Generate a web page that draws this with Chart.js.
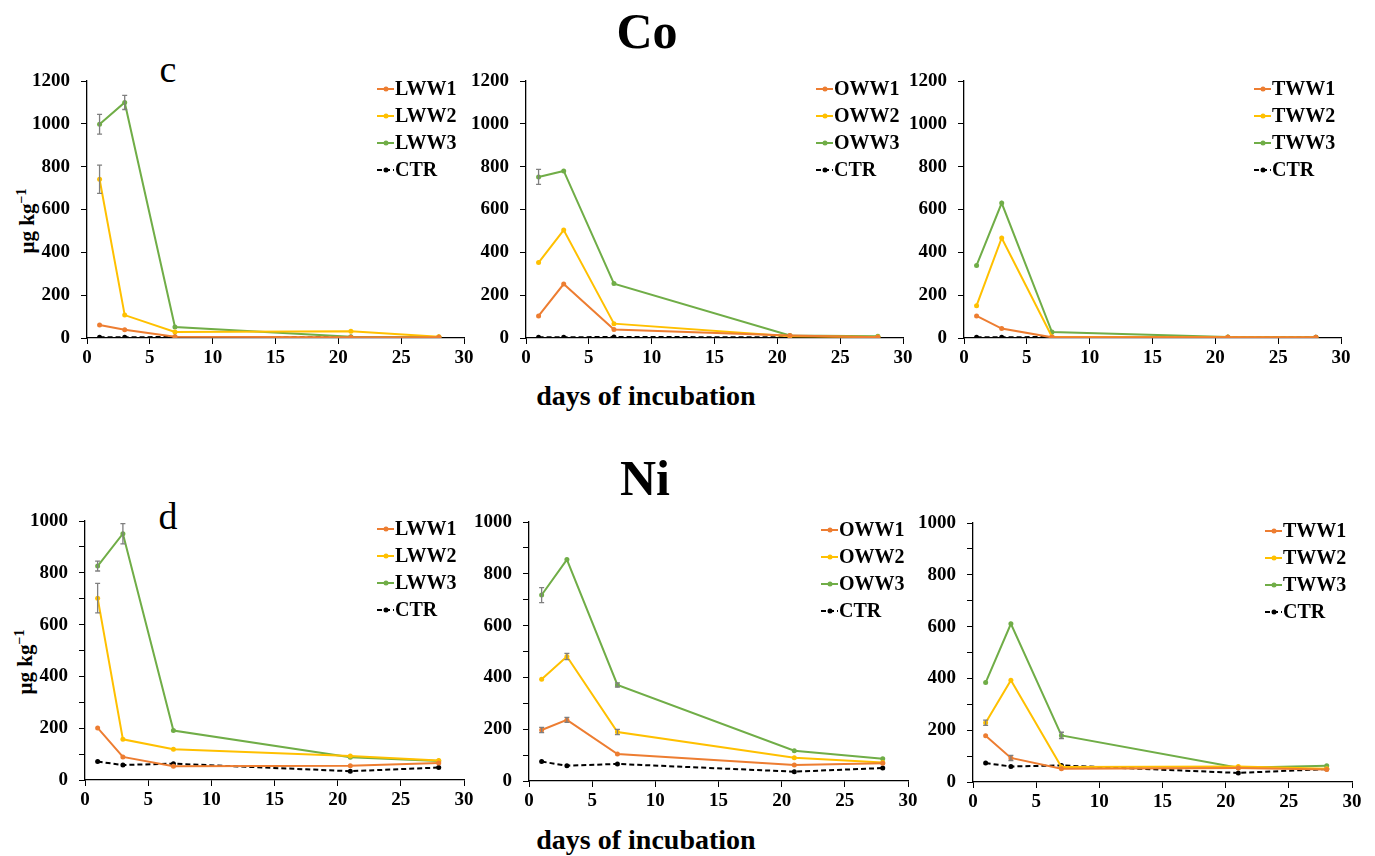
<!DOCTYPE html>
<html>
<head>
<meta charset="utf-8">
<script src="https://cdn.jsdelivr.net/npm/chart.js@4.4.1/dist/chart.umd.min.js"></script>
<style>
  html, body { margin: 0; padding: 0; background: #fff; }
  #wrap { position: relative; width: 1375px; height: 856px; overflow: hidden; font-family: "Liberation Serif", "Times New Roman", serif; color: #000; }
  #wrap canvas { position: absolute; }
  .txt { position: absolute; white-space: nowrap; line-height: 1; }
  .big { font-size: 50px; font-weight: bold; transform: translateX(-50%); }
  .xt { font-size: 28px; font-weight: bold; transform: translateX(-50%); }
  .lab { font-size: 38px; transform: translateX(-50%); }
  .yt { font-size: 21px; font-weight: bold; transform: translate(-50%, -50%) rotate(-90deg); }
  .yt sup { font-size: 14px; vertical-align: 8px; }
</style>
</head>
<body>
<div id="wrap">
  <div class="txt big" style="left:647px; top:6px;">Co</div>
  <div class="txt big" style="left:645px; top:453px;">Ni</div>
  <div class="txt lab" style="left:168px; top:50px;">c</div>
  <div class="txt lab" style="left:168px; top:497px;">d</div>
  <div class="txt xt" style="left:646px; top:382px;">days of incubation</div>
  <div class="txt xt" style="left:646px; top:826px;">days of incubation</div>
  <div class="txt yt" style="left:26px; top:221px;">µg kg<sup>−1</sup></div>
  <div class="txt yt" style="left:24px; top:662px;">µg kg<sup>−1</sup></div>
</div>
<script>
// days of incubation
const days = [1, 3, 7, 21, 28];

// Co (µg kg-1)
const coLWW1 = [61, 39, 6, 4, 3];
const coLWW2 = [741, 107, 28, 31, 6];
const coLWW3 = [998, 1100, 51, 6, 5];
const coLCTR = [3, 3, 5, 3, 3];
const coLWW2Err = [66, 0, 0, 0, 0];
const coLWW3Err = [46, 33, 0, 0, 0];

const coOWW1 = [103, 252, 40, 12, 3];
const coOWW2 = [352, 504, 67, 8, 5];
const coOWW3 = [752, 780, 254, 12, 8];
const coOCTR = [3, 3, 5, 3, 3];
const coOWW3Err = [35, 0, 0, 0, 0];

const coTWW1 = [103, 44, 3, 3, 3];
const coTWW2 = [151, 467, 6, 3, 2];
const coTWW3 = [339, 630, 28, 5, 3];
const coTCTR = [3, 3, 5, 3, 3];

// Ni (µg kg-1)
const niLWW1 = [201, 89, 53, 55, 66];
const niLWW2 = [702, 157, 119, 93, 75];
const niLWW3 = [826, 951, 191, 88, 73];
const niLCTR = [71, 58, 63, 34, 48];
const niLWW2Err = [57, 0, 0, 0, 0];
const niLWW3Err = [19, 39, 0, 0, 0];

const niOWW1 = [197, 236, 104, 62, 69];
const niOWW2 = [393, 481, 189, 90, 71];
const niOWW3 = [718, 855, 371, 117, 86];
const niOCTR = [75, 59, 66, 36, 50];
const niOWW1Err = [10, 10, 0, 0, 0];
const niOWW2Err = [0, 12, 10, 0, 0];
const niOWW3Err = [29, 0, 8, 0, 0];

const niTWW1 = [179, 93, 51, 54, 48];
const niTWW2 = [229, 393, 58, 60, 51];
const niTWW3 = [384, 611, 180, 55, 63];
const niTCTR = [73, 60, 64, 35, 50];
const niTWW1Err = [0, 10, 0, 0, 0];
const niTWW2Err = [10, 0, 0, 0, 0];
const niTWW3Err = [0, 0, 12, 0, 0];

const xTickStep = 5;
const coMax = 1200;
const niMax = 1000;

const FONT = '"Liberation Serif", "Times New Roman", serif';
const ORANGE = '#ED7D31', YELLOW = '#FFC000', GREEN = '#70AD47', BLACK = '#000000';

// error bars drawn on top of the lines
const errorBars = {
    id: 'errorBars',
    afterDatasetsDraw(chart) {
        const ctx = chart.ctx;
        const ys = chart.scales.y, xs = chart.scales.x;
        ctx.save();
        ctx.strokeStyle = '#7f7f7f';
        ctx.lineWidth = 1.3;
        chart.data.datasets.forEach(ds => {
            if (!ds.errors) return;
            ds.data.forEach((p, i) => {
                const e = ds.errors[i];
                if (!e) return;
                const x = xs.getPixelForValue(p.x);
                const y1 = ys.getPixelForValue(p.y - e), y2 = ys.getPixelForValue(p.y + e);
                ctx.beginPath();
                ctx.moveTo(x, y1); ctx.lineTo(x, y2);
                ctx.moveTo(x - 2.5, y1); ctx.lineTo(x + 2.5, y1);
                ctx.moveTo(x - 2.5, y2); ctx.lineTo(x + 2.5, y2);
                ctx.stroke();
            });
        });
        ctx.restore();
    }
};

// Excel-like legend inside the plot, top right
const insideLegend = {
    id: 'insideLegend',
    afterDraw(chart) {
        const ctx = chart.ctx;
        const a = chart.chartArea;
        const x0 = a.right - 87;
        ctx.save();
        chart.data.datasets.forEach((ds, i) => {
            const y = a.top + 8 + i * 27;
            ctx.strokeStyle = ds.borderColor;
            ctx.lineWidth = 2;
            ctx.setLineDash(ds.borderDash || []);
            ctx.beginPath();
            ctx.moveTo(x0, y); ctx.lineTo(x0 + 17, y);
            ctx.stroke();
            ctx.setLineDash([]);
            ctx.fillStyle = ds.borderColor;
            ctx.beginPath();
            ctx.arc(x0 + 9, y, 2.5, 0, Math.PI * 2);
            ctx.fill();
            ctx.fillStyle = '#000';
            ctx.font = 'bold 20px ' + FONT;
            ctx.textBaseline = 'middle';
            ctx.fillText(ds.label, x0 + 18, y + 1);
        });
        ctx.restore();
    }
};

function line(label, data, color, errors, dashed) {
    return {
        label: label,
        data: data.map((v, i) => ({ x: days[i], y: v })),
        errors: errors,
        borderColor: color,
        backgroundColor: color,
        borderWidth: 2,
        borderDash: dashed ? [5, 3] : undefined,
        pointRadius: 2.5,
        pointHoverRadius: 2.5,
        pointBorderWidth: 0,
        tension: 0
    };
}

function makePanel(area, yMax, datasets) {
    const yw = 70, padTop = 26, padRight = 24, xh = 44;
    const c = document.createElement('canvas');
    const w = (area.r - area.l) + yw + padRight;
    const h = (area.b - area.t) + padTop + xh;
    c.width = w; c.height = h;
    c.style.left = (area.l - yw) + 'px';
    c.style.top = (area.t - padTop) + 'px';
    c.style.width = w + 'px'; c.style.height = h + 'px';
    document.getElementById('wrap').appendChild(c);

    new Chart(c.getContext('2d'), {
        type: 'line',
        data: { datasets: datasets },
        options: {
            responsive: false,
            animation: false,
            devicePixelRatio: 1,
            layout: { padding: { left: 0, top: padTop, right: padRight, bottom: 0 } },
            plugins: { legend: { display: false }, tooltip: { enabled: false } },
            scales: {
                x: {
                    type: 'linear', min: 0, max: 30,
                    afterFit: s => { s.height = xh; },
                    ticks: { stepSize: xTickStep, color: '#000', padding: 3, font: { family: FONT, size: 19, weight: 'bold' } },
                    grid: { drawOnChartArea: false, drawTicks: true, tickLength: 6, color: '#000', lineWidth: 1 },
                    border: { color: '#000', width: 1.3 }
                },
                y: {
                    min: 0, max: yMax,
                    afterFit: s => { s.width = yw; },
                    ticks: {
                        stepSize: 100, color: '#000', padding: 11,
                        font: { family: FONT, size: 19, weight: 'bold' },
                        callback: v => (v % 200 === 0 ? v : '')
                    },
                    grid: { drawOnChartArea: false, drawTicks: true, tickLength: 6, color: '#000', lineWidth: 1 },
                    border: { color: '#000', width: 1.3 }
                }
            }
        },
        plugins: [errorBars, insideLegend]
    });
}

makePanel({ l: 87, t: 81, r: 464, b: 338 }, coMax, [
    line('LWW1', coLWW1, ORANGE),
    line('LWW2', coLWW2, YELLOW, coLWW2Err),
    line('LWW3', coLWW3, GREEN, coLWW3Err),
    line('CTR', coLCTR, BLACK, null, true)
]);
makePanel({ l: 526, t: 81, r: 903, b: 338 }, coMax, [
    line('OWW1', coOWW1, ORANGE),
    line('OWW2', coOWW2, YELLOW),
    line('OWW3', coOWW3, GREEN, coOWW3Err),
    line('CTR', coOCTR, BLACK, null, true)
]);
makePanel({ l: 964, t: 81, r: 1341, b: 338 }, coMax, [
    line('TWW1', coTWW1, ORANGE),
    line('TWW2', coTWW2, YELLOW),
    line('TWW3', coTWW3, GREEN),
    line('CTR', coTCTR, BLACK, null, true)
]);
makePanel({ l: 85, t: 521, r: 464, b: 780 }, niMax, [
    line('LWW1', niLWW1, ORANGE),
    line('LWW2', niLWW2, YELLOW, niLWW2Err),
    line('LWW3', niLWW3, GREEN, niLWW3Err),
    line('CTR', niLCTR, BLACK, null, true)
]);
makePanel({ l: 529, t: 522, r: 908, b: 781 }, niMax, [
    line('OWW1', niOWW1, ORANGE, niOWW1Err),
    line('OWW2', niOWW2, YELLOW, niOWW2Err),
    line('OWW3', niOWW3, GREEN, niOWW3Err),
    line('CTR', niOCTR, BLACK, null, true)
]);
makePanel({ l: 973, t: 523, r: 1352, b: 782 }, niMax, [
    line('TWW1', niTWW1, ORANGE, niTWW1Err),
    line('TWW2', niTWW2, YELLOW, niTWW2Err),
    line('TWW3', niTWW3, GREEN, niTWW3Err),
    line('CTR', niTCTR, BLACK, null, true)
]);
</script>
</body>
</html>
